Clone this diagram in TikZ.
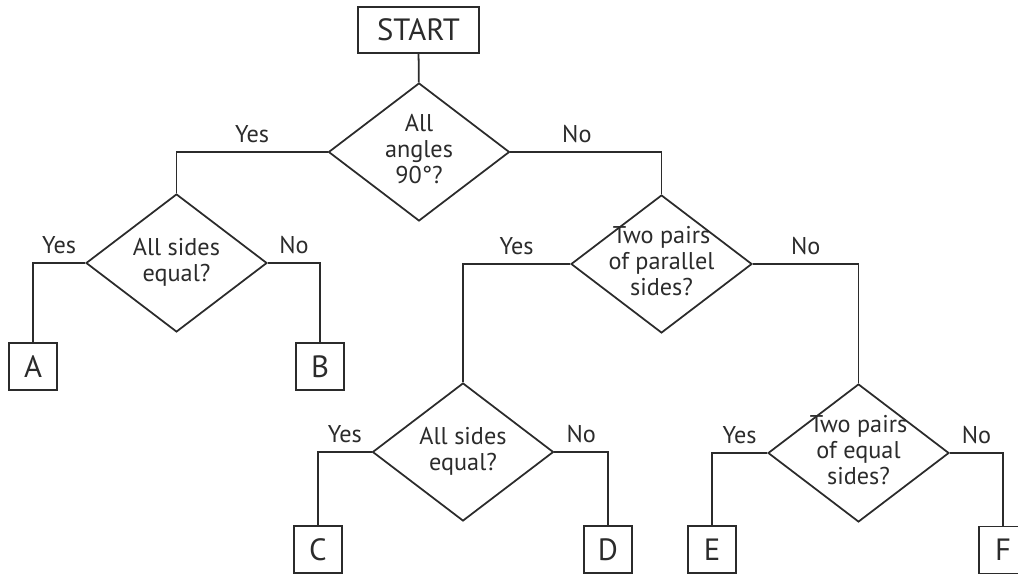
\documentclass[tikz,border=0pt]{standalone}
\usepackage{fontspec}
\setmainfont{PT Sans}
\usetikzlibrary{shapes.geometric}

\definecolor{ink}{HTML}{2B2B2B}
\newcommand{\qfont}{\fontsize{13.8}{14.8}\selectfont}
\newcommand{\boxfont}{\fontsize{17.5}{19}\selectfont}
\newcommand{\qtext}[1]{\makebox[0pt]{\begin{tabular}{@{}c@{}}#1\end{tabular}}}

\tikzset{
  decision/.style={diamond, draw, inner sep=0pt, minimum width=3.62cm, minimum height=2.76cm, font=\qfont},
  endbox/.style={rectangle, draw, inner sep=0pt, minimum width=0.96cm, minimum height=0.94cm, font=\boxfont},
  answer/.style={above=4.5pt, inner sep=0pt, font=\qfont}
}

\begin{document}
\begin{tikzpicture}[x=0.02cm, y=-0.02cm, line width=1pt, color=ink]
    % Picture frame (pixels of the original)
    \clip (0,0) rectangle (1018,577);

    % Start and the questions
    \node[endbox, minimum width=2.42cm, minimum height=0.92cm] (start) at (418.5,30) {START};
    \node[decision] (q1) at (419,152) {\qtext{All\\angles\\90°?}};
    \node[decision] (q2) at (176.5,263) {\qtext{All sides\\equal?}};
    \node[decision] (q3) at (661.5,264) {\qtext{Two pairs\\of parallel\\sides?}};
    \node[decision] (q4) at (463,452) {\qtext{All sides\\equal?}};
    \node[decision] (q5) at (858.5,453) {\qtext{Two pairs\\of equal\\sides?}};

    % End boxes
    \node[endbox] (a) at (33,366.5) {A};
    \node[endbox] (b) at (320,366.5) {B};
    \node[endbox] (c) at (318,549.5) {C};
    \node[endbox] (d) at (608,549.5) {D};
    \node[endbox] (e) at (712,549.5) {E};
    \node[endbox] (f) at (1003,550) {F};

    % Connectors
    \draw (start) -- (q1);
    \draw (q1.west) -| node[answer, pos=0.25] (y1) {Yes} (q2.north);
    \draw (q1.east) -| node[answer, pos=0.22] (n1) {No} (q3.north);
    \draw (q2.west) -| node[answer, pos=0.25] (y2) {Yes} (a.north);
    \draw (q2.east) -| node[answer, pos=0.25] (n2) {No} (b.north);
    \draw (q3.west) -| node[answer, pos=0.25] (y3) {Yes} (q4.north);
    \draw (q3.east) -| node[answer, pos=0.25] (n3) {No} (q5.north);
    \draw (q4.west) -| node[answer, pos=0.25] (y4) {Yes} (c.north);
    \draw (q4.east) -| node[answer, pos=0.25] (n4) {No} (d.north);
    \draw (q5.west) -| node[answer, pos=0.25] (y5) {Yes} (e.north);
    \draw (q5.east) -| node[answer, pos=0.25] (n5) {No} (f.north);
\end{tikzpicture}
\end{document}
